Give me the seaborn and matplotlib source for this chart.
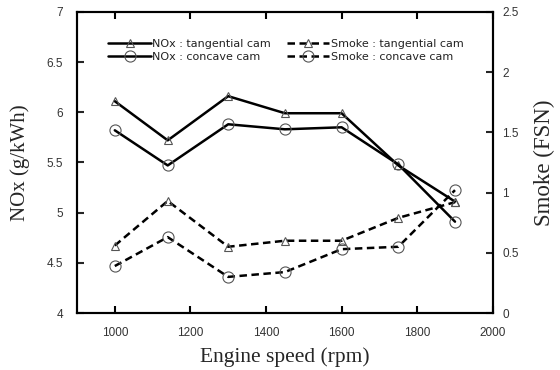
import matplotlib
matplotlib.use("Agg")
import matplotlib.pyplot as plt
import seaborn as sns
import pandas as pd

speed = [1000, 1140, 1300, 1450, 1600, 1750, 1900]
nox_tangential = [6.11, 5.72, 6.16, 5.99, 5.99, 5.47, 5.11]
nox_concave = [5.82, 5.47, 5.88, 5.83, 5.85, 5.48, 4.91]
smoke_tangential = [0.56, 0.93, 0.55, 0.60, 0.60, 0.79, 0.92]
smoke_concave = [0.39, 0.63, 0.30, 0.34, 0.53, 0.55, 1.02]

x_ticks = [1000, 1200, 1400, 1600, 1800, 2000]
left_ticks = [4, 4.5, 5, 5.5, 6, 6.5, 7]
right_ticks = [0, 0.5, 1, 1.5, 2, 2.5]

sns.set_style("ticks")
plt.rcParams['font.family'] = ['Liberation Sans', 'DejaVu Sans']

fig = plt.figure(figsize=(5.6, 3.7), dpi=100)
ax = fig.add_axes([0.1375, 0.154, 0.7425, 0.814])
ax2 = ax.twinx()

lw = 1.8
sns.lineplot(x=speed, y=nox_tangential, ax=ax, color='black', lw=lw, marker='^',
             markersize=6, markerfacecolor='none', markeredgecolor='#555555',
             markeredgewidth=0.8, label='NOx : tangential cam', legend=False)
sns.lineplot(x=speed, y=nox_concave, ax=ax, color='black', lw=lw, marker='o',
             markersize=8, markerfacecolor='none', markeredgecolor='#555555',
             markeredgewidth=0.8, label='NOx : concave cam', legend=False)
sns.lineplot(x=speed, y=smoke_tangential, ax=ax2, color='black', lw=lw, marker='^',
             markersize=6, markerfacecolor='none', markeredgecolor='#555555',
             markeredgewidth=0.8, linestyle=(0, (3, 1.8)), label='Smoke : tangential cam', legend=False)
sns.lineplot(x=speed, y=smoke_concave, ax=ax2, color='black', lw=lw, marker='o',
             markersize=8, markerfacecolor='none', markeredgecolor='#555555',
             markeredgewidth=0.8, linestyle=(0, (3, 1.8)), label='Smoke : concave cam', legend=False)

ax.set_xlim(900, 2000)
ax.set_ylim(4, 7)
ax2.set_ylim(0, 2.5)
ax.set_xticks(x_ticks)
ax.set_xticklabels([str(t) for t in x_ticks])
ax.set_yticks(left_ticks)
ax.set_yticklabels(['4', '4.5', '5', '5.5', '6', '6.5', '7'])
ax2.set_yticks(right_ticks)
ax2.set_yticklabels(['0', '0.5', '1', '1.5', '2', '2.5'])

for a in (ax, ax2):
    for s in a.spines.values():
        s.set_linewidth(1.5)
        s.set_color('black')
        s.set_visible(True)
ax.tick_params(axis='x', direction='in', top=True, length=5, width=1.5, labelsize=8.5, colors='black', labelcolor='#333333', pad=10)
ax.tick_params(axis='y', direction='in', left=True, right=False, length=5, width=1.5, labelsize=8.5, labelcolor='#333333', pad=10)
ax2.tick_params(axis='y', direction='in', right=True, length=5, width=1.5, labelsize=8.5, labelcolor='#333333', pad=7)

serif = ['Liberation Serif', 'DejaVu Serif']
ax.set_xlabel('Engine speed (rpm)', fontsize=15.5, family=serif, labelpad=6)
ax.set_ylabel('NOx (g/kWh)', fontsize=15, family=serif, labelpad=12)
ax2.set_ylabel('Smoke (FSN)', fontsize=16.5, family=serif, labelpad=11)

h1, l1 = ax.get_legend_handles_labels()
h2, l2 = ax2.get_legend_handles_labels()
handles = [h1[0], h1[1], h2[0], h2[1]]
labels = [l1[0], l1[1], l2[0], l2[1]]
leg = ax.legend(handles, labels, ncol=2, frameon=False, loc='upper left',
                bbox_to_anchor=(0.065, 0.925), handlelength=3.8,
                prop={'family': 'DejaVu Sans', 'size': 8},
                handletextpad=0.15, columnspacing=1.4, labelspacing=0.3,
                borderaxespad=0)
for t in leg.get_texts():
    t.set_color('#222222')

fig.savefig('out.png', dpi=100)
